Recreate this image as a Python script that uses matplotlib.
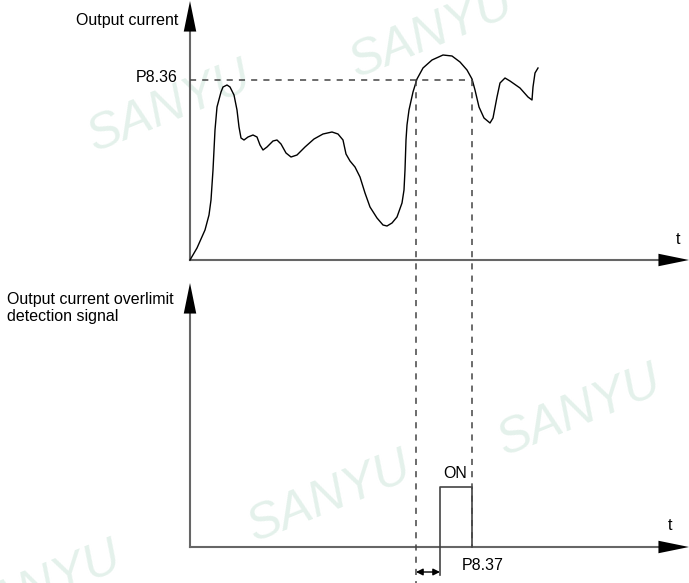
import numpy as np
import matplotlib.pyplot as plt
from matplotlib.patches import FancyArrowPatch

plt.rcParams['font.family'] = ['Liberation Sans', 'DejaVu Sans']

# output current curve (pixel coords)
curve_x = [190, 197, 205, 209, 211, 213, 215, 217, 221, 223, 227, 230, 234, 237,
           239, 241, 244, 248, 253, 257, 260, 263, 267, 273, 277, 281, 286, 291,
           297, 305, 314, 323, 332, 338, 343, 346, 350, 355, 360, 365, 370, 377,
           383, 387, 392, 397, 402, 404, 405, 406, 407, 409, 413, 417, 423, 432,
           443, 452, 460, 467, 472, 475, 479, 484, 490, 493, 497, 500, 505, 510,
           520, 528, 532, 533, 535, 538]
curve_y = [260, 248, 230, 215, 200, 170, 130, 107, 92, 87, 85, 87, 95, 110,
           127, 138, 140, 137, 135, 137, 145, 150, 147, 141, 140, 144, 153, 157,
           155, 147, 139, 134, 132, 134, 140, 154, 161, 167, 177, 193, 207, 218,
           225, 226, 223, 217, 203, 190, 170, 140, 125, 110, 92, 79, 68, 60,
           55, 56, 62, 70, 79, 90, 107, 118, 123, 118, 97, 83, 78, 81,
           88, 97, 100, 87, 73, 68]

t_on = 416        # current crosses P8.36 going up
t_pulse = 440     # signal switches on after P8.37 delay
t_off = 472       # current falls below P8.36
level = 80        # P8.36 level
pulse_top = 487

top_axis_y = 260
bot_axis_y = 547
axis_x = 190

watermarks = [(432, 34), (170, 108), (580, 412), (330, 498), (40, 588)]

fig = plt.figure(figsize=(6.89, 5.83), dpi=100)
ax = fig.add_axes([0, 0, 1, 1])
ax.set_xlim(0, 689)
ax.set_ylim(583, 0)
ax.axis('off')

for wx, wy in watermarks:
    ax.text(wx, wy, 'SANYU', fontsize=36, fontstyle='italic',
            color='#e4f1eb', rotation=22, ha='center', va='center', zorder=0)

axis_col = '#666666'
# top axes
ax.plot([axis_x, axis_x], [top_axis_y, 30], color=axis_col, lw=1.5)
ax.plot([axis_x, 665], [top_axis_y, top_axis_y], color=axis_col, lw=1.5)
# bottom axes
ax.plot([axis_x, axis_x], [bot_axis_y, 312], color=axis_col, lw=1.5)
ax.plot([axis_x, 665], [bot_axis_y, bot_axis_y], color=axis_col, lw=1.5)

def head(x0, y0, x1, y1):
    ax.annotate('', xy=(x1, y1), xytext=(x0, y0),
                arrowprops=dict(arrowstyle='-|>,head_length=2.2,head_width=0.45',
                                color='black', lw=0, shrinkA=0, shrinkB=0))

head(axis_x, 34, axis_x, 1)
head(axis_x, 316, axis_x, 283)
head(660, top_axis_y, 689, top_axis_y)
head(660, bot_axis_y, 689, bot_axis_y)

ax.plot(curve_x, curve_y, color='black', lw=1, solid_joinstyle='round')

dash = dict(color='#444444', lw=1.1, ls=(0, (4, 4)))
ax.plot([axis_x, t_off], [level, level], **dash)
ax.plot([t_on, t_on], [level, 583], **dash)
ax.plot([t_off, t_off], [level, bot_axis_y], **dash)

# detection signal pulse
ax.plot([t_pulse, t_pulse, t_off, t_off], [bot_axis_y, pulse_top, pulse_top, bot_axis_y],
        color='#444444', lw=1.2)
ax.plot([t_pulse, t_pulse], [bot_axis_y, 575], color='#444444', lw=1.2)

ax.add_patch(FancyArrowPatch((t_on, 572), (t_pulse, 572), arrowstyle='<|-|>,head_length=4,head_width=2',
                             color='black', lw=1, shrinkA=0, shrinkB=0, mutation_scale=1))

fs = 11.5
ax.text(178, 21, 'Output current', fontsize=fs, ha='right', va='center')
ax.text(178, 78, 'P8.36', fontsize=fs, ha='right', va='center')
ax.text(678, 240, 't', fontsize=fs, ha='center', va='center')
ax.text(670, 525, 't', fontsize=fs, ha='center', va='center')
ax.text(7, 308, 'Output current overlimit\ndetection signal', fontsize=fs,
        ha='left', va='center', linespacing=1.2)
ax.text(455, 473, 'ON', fontsize=fs, ha='center', va='center')
ax.text(462, 565, 'P8.37', fontsize=fs, ha='left', va='center')

fig.savefig('out.png', dpi=100)
